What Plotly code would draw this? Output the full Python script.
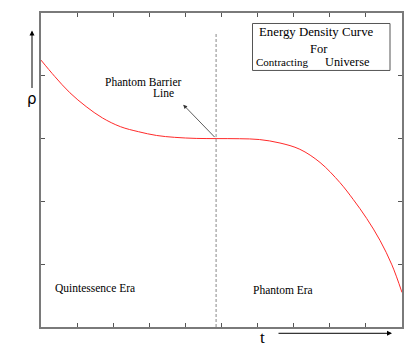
import plotly.graph_objects as go

# energy density curve (t in 0..10, rho in 0..5)
t_vals = [0.0, 0.38, 0.8, 1.25, 1.7, 2.2, 2.7, 3.2, 3.7, 4.3, 4.85, 5.5, 6.05,
          6.62, 7.17, 7.73, 8.28, 8.65, 9.02, 9.39, 9.72, 10.0]
rho_vals = [4.25, 3.99, 3.73, 3.51, 3.33, 3.19, 3.11, 3.05, 3.02, 3.003, 3.0, 2.998, 2.985,
            2.93, 2.83, 2.62, 2.30, 2.03, 1.73, 1.38, 0.99, 0.55]

barrier_t = 4.85
barrier_top = 4.69
x_ticks = [1, 2, 3, 4, 5, 6, 7, 8, 9]
y_ticks = [1, 2, 3, 4]

SERIF = "Liberation Serif, Times New Roman, serif"

fig = go.Figure()
fig.add_trace(go.Scatter(
    x=t_vals, y=rho_vals, mode="lines",
    line=dict(color="#ff2a2a", width=1, shape="spline", smoothing=1),
    showlegend=False, hoverinfo="skip",
))
fig.add_trace(go.Scatter(
    x=[barrier_t, barrier_t], y=[0, barrier_top], mode="lines",
    line=dict(color="#888888", width=1, dash="3px,2px"),
    showlegend=False, hoverinfo="skip",
))


# page pixel -> paper coords (plot area spans x 41..402, y 12.5..326.7 on the page)
def paper_x(px):
    return (px - 41) / 361


def paper_y(py):
    return (326.7 - py) / 314.2


annos = [
    # (text, px, py, size)
    ("Phantom Barrier", 143, 82, 11.5),
    ("Line", 163, 93, 11.5),
    ("Quintessence Era", 95, 288, 11.5),
    ("Phantom Era", 283, 290, 11.5),
    ("Energy Density Curve", 316, 32, 12.8),
    ("For", 319, 49, 12.5),
    ("Contracting", 282, 62, 11),
    ("Universe", 347, 62, 12.3),
]
for text, px, py, size in annos:
    fig.add_annotation(
        x=paper_x(px), y=paper_y(py), xref="paper", yref="paper",
        xanchor="center", yanchor="middle",
        text=text, showarrow=False, font=dict(family=SERIF, size=size, color="black"),
    )

# axis symbols
fig.add_annotation(x=paper_x(32), y=paper_y(99), xref="paper", yref="paper",
                   xanchor="center", yanchor="middle",
                   text="ρ", showarrow=False,
                   font=dict(family="DejaVu Sans", size=15, color="black"))
fig.add_annotation(x=paper_x(262), y=paper_y(337), xref="paper", yref="paper",
                   xanchor="center", yanchor="middle",
                   text="t", showarrow=False,
                   font=dict(family=SERIF, size=17, color="black"))

# arrows (tail offsets in pixels)
fig.add_annotation(x=paper_x(32), y=paper_y(30), xref="paper", yref="paper",
                   ax=0, ay=59, text="", showarrow=True, arrowhead=2, arrowsize=1,
                   arrowwidth=1, arrowcolor="black", standoff=0, startstandoff=0)
fig.add_annotation(x=paper_x(392), y=paper_y(333), xref="paper", yref="paper",
                   ax=-115, ay=0, text="", showarrow=True, arrowhead=2, arrowsize=1,
                   arrowwidth=1, arrowcolor="black", standoff=0, startstandoff=0)
fig.add_annotation(x=3.94, y=3.54, xref="x", yref="y",
                   ax=barrier_t, ay=3.0, axref="x", ayref="y",
                   text="", showarrow=True, arrowhead=2, arrowsize=1,
                   arrowwidth=0.8, arrowcolor="#333333", standoff=0, startstandoff=0)

# legend-like box
fig.add_shape(type="rect", xref="paper", yref="paper",
              x0=paper_x(252.5), x1=paper_x(390), y0=paper_y(70), y1=paper_y(23),
              line=dict(color="#555555", width=1))

axis_common = dict(
    showgrid=False, zeroline=False, showticklabels=False,
    ticks="inside", ticklen=4, tickwidth=1, tickcolor="#555555",
    showline=True, linecolor="#7a7a7a", linewidth=2, mirror="ticks",
)
# the page body adds an 8px margin, so the figure is drawn 8px smaller and shifted
fig.update_layout(
    width=407, height=338,
    margin=dict(l=33, r=13, t=5, b=19, autoexpand=False),
    paper_bgcolor="white", plot_bgcolor="white",
    xaxis=dict(range=[0, 10], tickvals=x_ticks, **axis_common),
    yaxis=dict(range=[0, 5], tickvals=y_ticks, **axis_common),
)

fig.write_html("out.html")
